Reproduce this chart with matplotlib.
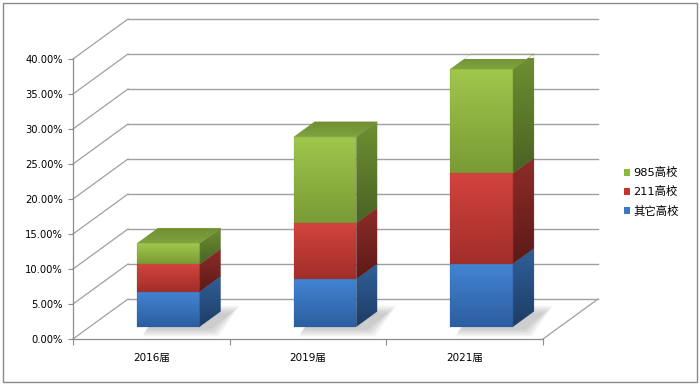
import matplotlib
matplotlib.use('Agg')
import matplotlib.pyplot as plt
import numpy as np
from matplotlib.patches import Polygon, Rectangle, Patch
from matplotlib.colors import LinearSegmentedColormap

plt.rcParams['font.family'] = ['DejaVu Sans', 'Noto Sans CJK SC']

# ---------------- data ----------------
categories = ['2016届', '2019届', '2021届']
series_names = ['其它高校', '211高校', '985高校']
other_vals = [5.0, 6.8, 9.0]
v211_vals = [3.9, 8.0, 12.9]
v985_vals = [3.0, 12.3, 14.9]
yticks = [0, 5, 10, 15, 20, 25, 30, 35, 40]
ytick_labels = [f'{t:.2f}%' for t in yticks]

# ---------------- style ----------------
front_cols = [('#4384D3', '#2C5E9F'), ('#D3433E', '#A12E2A'), ('#A0C74D', '#7A9B35')]
side_cols = [('#30609A', '#1E3C64'), ('#8E2C28', '#5C1A18'), ('#6F9032', '#4A6323')]
top_cols = [('#3A6EB5', '#2F5E9C'), ('#B53834', '#9A2E2A'), ('#80A23F', '#6E8E31')]
legend_cols = ['#8DB83E', '#C8332F', '#3C78C8']
grid_col = '#a0a0a0'
axis_col = '#8c8c8c'

W, H = 700, 384
fig = plt.figure(figsize=(W / 100, H / 100), dpi=100)
fig.patch.set_facecolor('white')
ax = fig.add_axes([73 / W, 45 / H, 470 / W, 280 / H])
XMIN, XMAX, YMIN, YMAX = -0.5, 2.5, 0, 40
ax.set_xlim(XMIN, XMAX)
ax.set_ylim(YMIN, YMAX)
ax.set_autoscale_on(False)

# depth offset (data units) for the oblique projection
DX = 55 / (470 / 3)
DY = 40 / 7
D0, D1 = 0.31, 0.69        # bar depth span
BW = 0.40                  # bar width


def P(x, v, d):
    return (x + d * DX, v + d * DY)


def grad_poly(verts, c1, c2, z):
    poly = Polygon(verts, closed=True, facecolor='none', edgecolor='none',
                   transform=ax.transData, clip_on=False)
    ax.add_patch(poly)
    xs = [p[0] for p in verts]
    ys = [p[1] for p in verts]
    cmap = LinearSegmentedColormap.from_list('g', [c1, c2])
    grad = np.linspace(0, 1, 64).reshape(-1, 1)
    im = ax.imshow(grad, extent=[min(xs), max(xs), min(ys), max(ys)],
                   origin='upper', cmap=cmap, aspect='auto',
                   interpolation='bilinear', zorder=z)
    im.set_clip_path(poly)
    im.set_clip_box(None)
    edge = Polygon(verts, closed=True, facecolor='none',
                   edgecolor=c2, lw=0.3, alpha=0.5, clip_on=False, zorder=z + 0.01)
    ax.add_patch(edge)


# ---------------- walls & floor ----------------
for t in yticks:
    ax.plot([P(XMIN, t, 1)[0], P(XMAX, t, 1)[0]], [P(XMIN, t, 1)[1], P(XMAX, t, 1)[1]],
            color=grid_col, lw=1.0, clip_on=False, zorder=1)
    ax.plot([XMIN, P(XMIN, t, 1)[0]], [t, P(XMIN, t, 1)[1]],
            color=grid_col, lw=0.9, clip_on=False, zorder=1)
ax.plot([XMAX, P(XMAX, 0, 1)[0]], [0, P(XMAX, 0, 1)[1]],
        color=grid_col, lw=0.9, clip_on=False, zorder=1)

# ---------------- bars ----------------
series = [other_vals, v211_vals, v985_vals]
for i in range(len(categories)):
    x0, x1 = i - BW / 2, i + BW / 2
    # soft shadow on floor, offset toward the right
    for k in range(6):
        e = 0.010 * (5 - k)
        ev = 0.2 * (5 - k)
        sh = [P(x0 + 0.05 - e * 0.3, -0.4 - ev, D0), P(x1 + 0.07 + e, -0.4 - ev, D0),
              P(x1 + 0.07 + e, -0.2 + ev, D1), P(x0 + 0.05 - e * 0.3, -0.2 + ev, D1)]
        ax.add_patch(Polygon(sh, closed=True, facecolor='#7a7a7a', edgecolor='none',
                             alpha=0.07, clip_on=False, zorder=2))
    base = 0.0
    for s in range(len(series)):
        top = base + series[s][i]
        front = [P(x0, base, D0), P(x1, base, D0), P(x1, top, D0), P(x0, top, D0)]
        side = [P(x1, base, D0), P(x1, base, D1), P(x1, top, D1), P(x1, top, D0)]
        grad_poly(front, front_cols[s][0], front_cols[s][1], 4)
        grad_poly(side, side_cols[s][0], side_cols[s][1], 4)
        if s == len(series) - 1:
            topf = [P(x0, top, D0), P(x1, top, D0), P(x1, top, D1), P(x0, top, D1)]
            grad_poly(topf, top_cols[s][1], top_cols[s][0], 4)
        base = top

# ---------------- axes ----------------
for sp in ['top', 'right']:
    ax.spines[sp].set_visible(False)
for sp in ['left', 'bottom']:
    ax.spines[sp].set_color(axis_col)
    ax.spines[sp].set_linewidth(0.9)
ax.set_yticks(yticks)
ax.set_yticklabels(ytick_labels)
ax.tick_params(axis='y', direction='out', length=3.6, width=0.8, color=axis_col,
               pad=3.6, labelsize=7.2, labelcolor='black')
ax.set_xticks(range(len(categories)))
ax.set_xticklabels(categories)
ax.set_xticks([XMIN + k for k in range(len(categories) + 1)], minor=True)
ax.tick_params(axis='x', which='major', length=0, pad=10, labelsize=7.5, labelcolor='black')
ax.tick_params(axis='x', which='minor', length=4.3, width=0.8, color=axis_col, direction='out')
ax.set_facecolor('none')

# ---------------- legend ----------------
handles = [Patch(facecolor=legend_cols[k], edgecolor='none') for k in range(3)]
labels = [series_names[2], series_names[1], series_names[0]]
ax.legend(handles, labels, loc='center left', bbox_to_anchor=(624 / W, (H - 192) / H),
          bbox_transform=fig.transFigure, frameon=False, fontsize=8.2,
          handlelength=0.55, handleheight=0.55, handletextpad=0.3,
          labelspacing=0.72, borderpad=0, borderaxespad=0)

# outer chart border
fig.add_artist(Rectangle((2.5 / W, 2.5 / H), 694.5 / W, 379 / H, transform=fig.transFigure,
                         fill=False, edgecolor='#8a8a8a', lw=1.0))

fig.savefig('out.png', dpi=100)
